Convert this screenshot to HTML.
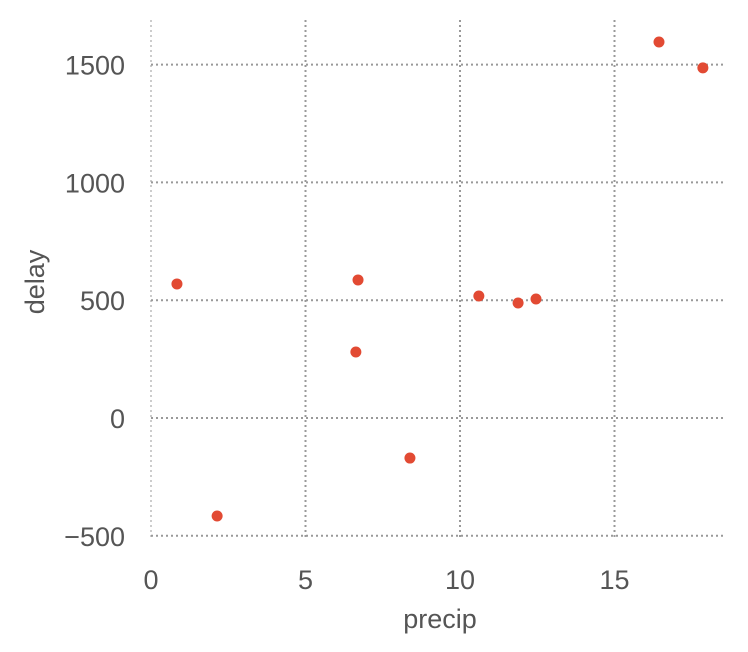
<!DOCTYPE html>
<html><head><meta charset="utf-8"><style>
body{margin:0;background:#fff;}
svg{display:block;font-family:"Liberation Sans",sans-serif;}
</style></head><body>
<svg id="chart" width="748" height="652">
<g id="grid"></g>
<g id="ticks"></g>
<g id="pts"></g>
<text x="440" y="628" text-anchor="middle" font-size="27" fill="#555">precip</text>
<text transform="translate(44,282) rotate(-90)" text-anchor="middle" font-size="27" fill="#555">delay</text>
</svg>
<script>
const precip=[0.84,2.14,6.7,6.63,8.38,10.61,11.88,12.46,16.44,17.86];
const delay=[569,-416,586,280,-170,518,488,505,1596,1486];
const xTicks=[0,5,10,15];
const yTicks=[-500,0,500,1000,1500];
const X0=151,XS=30.9,Y0=418,YS=0.2356;
const L=151,R=725,T=20,B=540;
function sx(v){return X0+v*XS;}
function sy(v){return Y0-v*YS;}
const NS="http://www.w3.org/2000/svg";
function mk(tag,attrs,parent){const e=document.createElementNS(NS,tag);for(const k in attrs)e.setAttribute(k,attrs[k]);parent.appendChild(e);return e;}
const grid=document.getElementById('grid'),ticks=document.getElementById('ticks'),pts=document.getElementById('pts');
xTicks.forEach(t=>{
  const l=mk('line',{x1:sx(t),x2:sx(t),y1:T,y2:B,stroke:t===0?'#aaa':'#999','stroke-width':t===0?1.2:2,'stroke-dasharray':'2,3'},grid);
  
  
  const tx=mk('text',{x:sx(t),y:589,'text-anchor':'middle','font-size':27,fill:'#555'},ticks);
  tx.textContent=t;
  
  
});
yTicks.forEach(t=>{
  const l=mk('line',{x1:L,x2:R,y1:sy(t),y2:sy(t),stroke:'#999','stroke-width':2,'stroke-dasharray':'2,3'},grid);
  
  
  const tx=mk('text',{x:125,y:sy(t)+10,'text-anchor':'end','font-size':27,fill:'#555'},ticks);
  tx.textContent=t<0?'\u2212'+Math.abs(t):t;
  
  
});
precip.forEach((p,i)=>{
  const c=mk('circle',{cx:sx(p),cy:sy(delay[i]),r:5.5,fill:'#E24A33'},pts);
  
  
});
</script>
</body></html>
